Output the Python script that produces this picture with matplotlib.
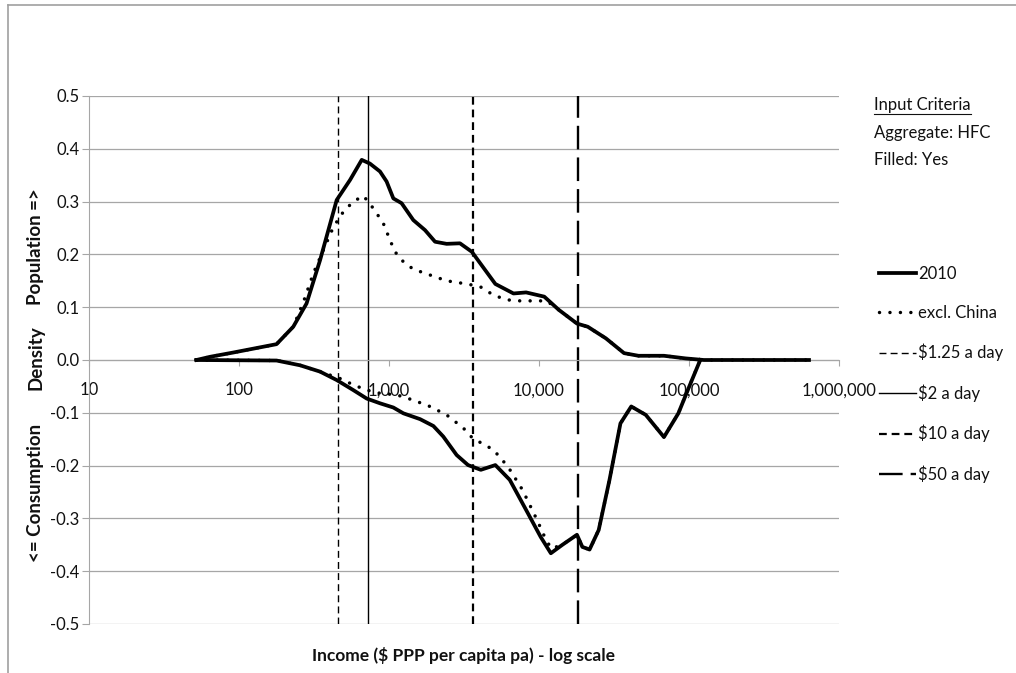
import matplotlib
matplotlib.use('Agg')
import matplotlib.pyplot as plt
from matplotlib.ticker import FixedLocator, FuncFormatter, NullLocator
from matplotlib.lines import Line2D

plt.rcParams['font.family'] = ['Lato', 'DejaVu Sans']
plt.rcParams['axes.unicode_minus'] = False

# income ($ PPP per capita pa) and density values
pop_2010_x = [52, 64, 91, 178, 230, 282, 347, 448, 550, 658, 746, 871, 964, 1069,
              1213, 1452, 1738, 2028, 2421, 2972, 3565, 4207, 5117, 6761, 8204,
              10839, 13552, 17906, 21135, 27925, 36898, 46026, 68077, 95060,
              125603, 630957]
pop_2010_y = [0.000, 0.006, 0.014, 0.030, 0.063, 0.107, 0.189, 0.303, 0.341, 0.379,
              0.372, 0.357, 0.338, 0.306, 0.297, 0.265, 0.246, 0.224, 0.220, 0.221,
              0.205, 0.177, 0.144, 0.126, 0.128, 0.120, 0.095, 0.069, 0.063, 0.041,
              0.013, 0.008, 0.008, 0.003, 0.000, 0.000]

pop_exc_x = [52, 64, 91, 178, 230, 269, 313, 365, 426, 497, 578, 675, 787, 916, 1016,
             1096, 1247, 1452, 1875, 2421, 3296, 4046, 4966, 6081, 7464, 11246,
             13552, 17906, 21135, 27925, 36898, 46026, 68077, 95060, 125603, 630957]
pop_exc_y = [0.000, 0.006, 0.014, 0.030, 0.063, 0.110, 0.164, 0.208, 0.252, 0.281,
             0.300, 0.311, 0.287, 0.259, 0.227, 0.205, 0.186, 0.172, 0.161, 0.150,
             0.144, 0.139, 0.123, 0.114, 0.112, 0.112, 0.095, 0.069, 0.063, 0.041,
             0.013, 0.008, 0.008, 0.003, 0.000, 0.000]

con_2010_x = [52, 178, 255, 347, 448, 578, 710, 871, 1069, 1247, 1611, 1977, 2301,
              2825, 3365, 4093, 5117, 6383, 8204, 10257, 11995, 14322, 17906, 19454,
              21727, 25003, 29512, 34914, 41210, 51523, 68077, 84918, 100462, 118850]
con_2010_y = [0.000, -0.001, -0.010, -0.022, -0.038, -0.057, -0.073, -0.082, -0.090,
              -0.101, -0.112, -0.125, -0.145, -0.180, -0.199, -0.208, -0.199, -0.227,
              -0.284, -0.335, -0.366, -0.350, -0.331, -0.354, -0.359, -0.322, -0.227,
              -0.120, -0.088, -0.104, -0.146, -0.101, -0.050, 0.000]

con_exc_x = [52, 178, 255, 347, 471, 578, 710, 871, 1125, 1452, 1875, 2421, 3133,
             3606, 4966, 6209, 7762, 9705, 11143, 12106, 14322, 17906, 19454, 21727,
             25003, 29512, 34914, 41210, 51523, 68077, 84918, 100462, 118850]
con_exc_y = [0.000, -0.001, -0.010, -0.022, -0.035, -0.047, -0.057, -0.063, -0.066,
             -0.076, -0.088, -0.104, -0.129, -0.148, -0.170, -0.202, -0.246, -0.303,
             -0.341, -0.357, -0.350, -0.331, -0.354, -0.359, -0.322, -0.227, -0.120,
             -0.088, -0.104, -0.146, -0.101, -0.050, 0.000]

# poverty lines: $ a day -> $ a year
line_labels = ['$1.25 a day', '$2 a day', '$10 a day', '$50 a day']
line_per_day = [1.25, 2, 10, 50]

x_ticks = [10, 100, 1000, 10000, 100000, 1000000]
y_ticks = [-0.5, -0.4, -0.3, -0.2, -0.1, 0.0, 0.1, 0.2, 0.3, 0.4, 0.5]

W, H = 1016, 673
fig = plt.figure(figsize=(W / 100, H / 100), dpi=100)
ax = fig.add_axes([89 / W, 1 - 624 / H, 750 / W, 528 / H])

grey = '#a6a6a6'
txt = '#111111'
fs = 12

ax.set_xscale('log')
ax.set_xlim(10, 1000000)
ax.set_ylim(-0.5, 0.5)

ax.yaxis.set_major_locator(FixedLocator(y_ticks))
ax.yaxis.set_major_formatter(FuncFormatter(lambda v, p: '%.1f' % v))
ax.xaxis.set_major_locator(FixedLocator(x_ticks))
ax.xaxis.set_minor_locator(NullLocator())
ax.xaxis.set_major_formatter(FuncFormatter(lambda v, p: '{:,.0f}'.format(v)))

ax.grid(True, axis='y', color=grey, linewidth=0.9)
ax.set_axisbelow(True)
ax.spines['top'].set_visible(False)
ax.spines['right'].set_visible(False)
ax.spines['left'].set_color(grey)
ax.spines['bottom'].set_color(grey)
ax.spines['bottom'].set_position(('data', 0))
ax.tick_params(axis='y', direction='out', length=5, color=grey, labelsize=fs,
               labelcolor=txt, pad=2)
ax.tick_params(axis='x', direction='out', length=4, color=grey, labelsize=fs,
               labelcolor=txt, pad=12)

# curves
ax.plot(pop_exc_x, pop_exc_y, color='black', lw=2.5, dashes=(0.01, 3.0),
        dash_capstyle='round', label='excl. China', zorder=3)
ax.plot(con_exc_x, con_exc_y, color='black', lw=2.5, dashes=(0.01, 3.0),
        dash_capstyle='round', zorder=3)
ax.plot(pop_2010_x, pop_2010_y, color='black', lw=2.7, label='2010', zorder=4,
        solid_joinstyle='round')
ax.plot(con_2010_x, con_2010_y, color='black', lw=2.7, zorder=4,
        solid_joinstyle='round')

styles = [dict(lw=1.0, dashes=(5, 3)),
          dict(lw=1.0, linestyle='-'),
          dict(lw=1.6, dashes=(3.5, 2.2)),
          dict(lw=1.7, dashes=(10, 3.4))]
for lab, d, st in zip(line_labels, line_per_day, styles):
    ax.axvline(d * 365, ymin=0, ymax=1, color='black', label=lab, zorder=2, **st)

handles, labels = ax.get_legend_handles_labels()
order = ['2010', 'excl. China'] + line_labels
hmap = dict(zip(labels, handles))
leg = fig.legend([hmap[k] for k in order], order, loc='upper left',
                 bbox_to_anchor=(879 / W, 1 - 266 / H), frameon=False,
                 fontsize=fs, handlelength=2.2, handletextpad=0.15,
                 labelspacing=1.38, borderpad=0, borderaxespad=0)
for t in leg.get_texts():
    t.set_color(txt)

# input criteria box
t0 = fig.text(874 / W, 1 - 105 / H, 'Input Criteria', fontsize=fs, color=txt,
              va='center', ha='left')
fig.text(874 / W, 1 - 133 / H, 'Aggregate: HFC', fontsize=fs, color=txt,
         va='center', ha='left')
fig.text(874 / W, 1 - 160 / H, 'Filled: Yes', fontsize=fs, color=txt,
         va='center', ha='left')
fig.canvas.draw()
bb = t0.get_window_extent().transformed(fig.transFigure.inverted())
fig.add_artist(Line2D([bb.x0, bb.x1], [1 - 114 / H, 1 - 114 / H], color=txt, lw=0.8))

# axis titles
fig.text(464 / W, 1 - 656 / H, 'Income ($ PPP per capita pa) - log scale',
         fontsize=12.5, fontweight='bold', color=txt, ha='center', va='center')
for label, yy in [('Population =>', 247), ('Density', 358), ('<= Consumption', 493)]:
    fig.text(36 / W, 1 - yy / H, label, fontsize=13.5, fontweight='bold', color=txt,
             rotation=90, ha='center', va='center')

# chart frame
fig.add_artist(Line2D([8 / W, 8 / W], [0, 1 - 5 / H], color='#a0a0a0', lw=1.2))
fig.add_artist(Line2D([8 / W, 1], [1 - 5 / H, 1 - 5 / H], color='#a0a0a0', lw=1.2))

fig.savefig('out.png', dpi=100)
